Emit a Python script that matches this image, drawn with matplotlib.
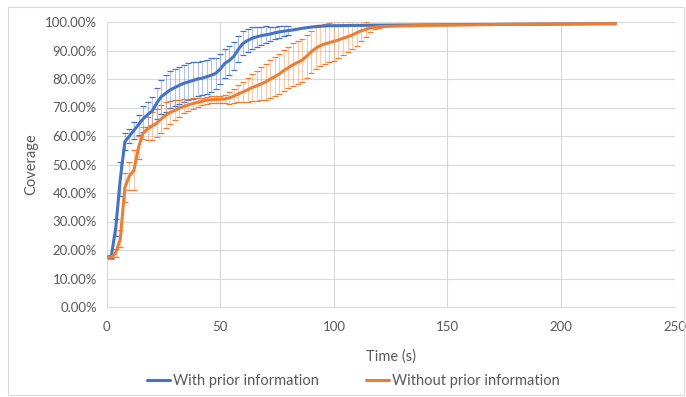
import numpy as np
import matplotlib
matplotlib.use("Agg")
import matplotlib.pyplot as plt
from matplotlib.patches import Rectangle
from matplotlib.ticker import FuncFormatter

# ---- data ----
time_s = list(range(0, 121, 2)) + [130, 140, 150, 160, 170, 180, 190, 200, 210, 224]

with_prior = [17.5, 17.6, 28, 45, 58, 60, 62, 64, 66, 67.5, 68.8, 71.5, 73.8, 75, 76.2, 77,
              77.8, 78.5, 79, 79.5, 80, 80.3, 80.8, 81.3, 82, 83.5, 85.5, 86.5, 88, 90.5,
              92.5, 93.5, 94.3, 94.8, 95.2, 95.5, 95.8, 96.2, 96.5, 96.8, 97, 97.2, 97.5,
              97.8, 98, 98.2, 98.4, 98.5, 98.6, 98.7, 98.7, 98.7, 98.75, 98.75, 98.8, 98.8,
              98.8, 98.85, 98.85, 98.9, 98.9,
              98.95, 99.0, 99.05, 99.1, 99.15, 99.2, 99.25, 99.3, 99.35, 99.4]
with_prior_err = [0.3, 0.5, 3, 6, 3, 2.5, 3, 3.5, 4.5, 4.5, 5, 5.5, 6, 6.5, 6.5, 6.5, 6.5,
                  6.5, 6.5, 6.5, 6, 6, 6, 6, 5.5, 5.2, 5, 5, 5, 4.5, 4.2, 4, 3.8, 3.5, 3.2,
                  3, 2.5, 2.2, 2, 1.8, 1.5, 0, 0, 0, 0, 0, 0, 0, 0, 0, 0, 0, 0, 0, 0, 0, 0,
                  0, 0, 0, 0,
                  0, 0, 0, 0, 0, 0, 0, 0, 0, 0]

without_prior = [17.5, 17.5, 19, 24, 42, 46, 48, 56, 61, 62.5, 63.5, 64.5, 66, 67.3, 68.3,
                 69, 69.8, 70.4, 70.9, 71.4, 71.8, 72.2, 72.6, 72.7, 72.8, 72.9, 73, 73.4,
                 74, 74.8, 75.5, 76.2, 77, 77.6, 78.3, 79, 80, 80.8, 81.8, 83, 84, 85, 85.8,
                 86.6, 88, 89.5, 90.8, 91.7, 92.3, 92.8, 93.2, 93.7, 94.3, 94.8, 95.4, 96.2,
                 96.9, 97.4, 97.9, 98.2, 98.4,
                 98.6, 98.8, 98.9, 99.0, 99.1, 99.2, 99.25, 99.3, 99.35, 99.4]
without_prior_err = [0.5, 0.5, 1.5, 3, 5, 5, 7, 4, 2, 4, 5, 5, 5, 4.5, 4, 3.5, 3, 2.5, 2,
                     1.8, 1.5, 1.3, 1.2, 1.2, 1.2, 1.2, 1.5, 2, 2.5, 3, 3.5, 4.2, 4.8, 5.3,
                     5.8, 6.2, 6.5, 6.8, 7, 7.2, 7.3, 7.5, 7.5, 7.5, 7.5, 7.5, 7.3, 7.2, 7,
                     7, 7, 6.5, 6, 5.5, 5, 4.5, 3.5, 2.5, 1.5, 0.8, 0.5,
                     0, 0, 0, 0, 0, 0, 0, 0, 0, 0]

series_labels = ["With prior information", "Without prior information"]
x_ticks = [0, 50, 100, 150, 200, 250]
y_ticks = [0, 10, 20, 30, 40, 50, 60, 70, 80, 90, 100]

# ---- style ----
plt.rcParams['font.family'] = ['Lato', 'DejaVu Sans']
BLUE = "#4472C4"
ORANGE = "#ED7D31"
GRID = "#D9D9D9"
TXT = "#595959"

fig = plt.figure(figsize=(6.86, 3.97), dpi=100)
fig.patches.append(Rectangle((8 / 686, 2 / 397), 676 / 686, 388 / 397,
                             transform=fig.transFigure, fill=False,
                             edgecolor="#D9D9D9", linewidth=0.8))
ax = fig.add_axes([106.7 / 686, 1 - 307 / 397, 568 / 686, 285 / 397])

t = np.array(time_s, dtype=float)
for y, e, c, lab in [(with_prior, with_prior_err, BLUE, series_labels[0]),
                     (without_prior, without_prior_err, ORANGE, series_labels[1])]:
    y = np.array(y, dtype=float)
    e = np.array(e, dtype=float)
    m = e > 0
    _, caps, bars = ax.errorbar(t[m], y[m], yerr=e[m], fmt='none', ecolor=c,
                                elinewidth=0.8, capsize=2.5, capthick=0.9, zorder=2)
    for b in bars:
        b.set_alpha(0.4)
    ax.plot(t, y, color=c, linewidth=2.2, label=lab, zorder=3,
            solid_capstyle='round', solid_joinstyle='round')

ax.set_xlim(0, 250)
ax.set_ylim(0, 100)
ax.set_xticks(x_ticks)
ax.set_yticks(y_ticks)
ax.yaxis.set_major_formatter(FuncFormatter(lambda v, p: f"{v:.2f}%"))
ax.grid(True, color=GRID, linewidth=0.8)
ax.set_axisbelow(True)
for s in ["top", "right"]:
    ax.spines[s].set_visible(False)
for s in ["left", "bottom"]:
    ax.spines[s].set_color(GRID)
    ax.spines[s].set_linewidth(0.8)
ax.tick_params(axis='x', length=0, labelsize=9.5, colors=TXT, pad=10)
ax.tick_params(axis='y', length=0, labelsize=9.5, colors=TXT, pad=7)
ax.set_xlabel("Time (s)", fontsize=10.5, color=TXT, labelpad=12)
ax.set_ylabel("Coverage", fontsize=10.5, color=TXT, labelpad=5)

leg = fig.legend(loc="center", bbox_to_anchor=(0.515, 1 - 381 / 397), ncol=2,
                 frameon=False, fontsize=10.5, handlelength=1.6, handletextpad=0.2,
                 columnspacing=3.2, labelcolor=TXT)

fig.savefig("out.png", dpi=100)
